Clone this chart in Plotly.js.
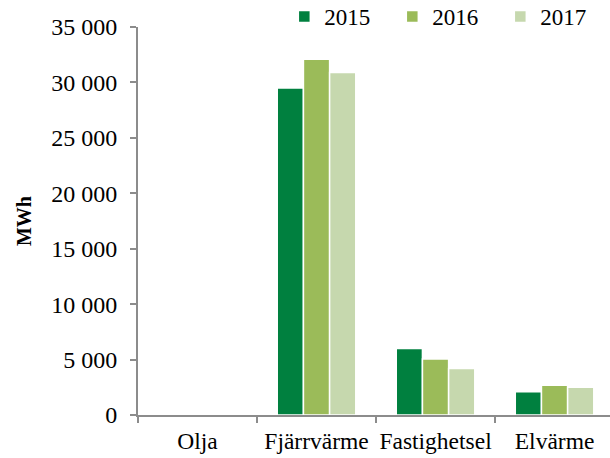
<!DOCTYPE html>
<html>
<head>
<meta charset="utf-8">
<script src="https://cdn.plot.ly/plotly-3.0.1.min.js"></script>
<style>
html,body{margin:0;padding:0;background:#fff;}
#chart{width:610px;height:458px;}
</style>
</head>
<body>
<div id="chart"></div>
<script>
const categories = ["Olja", "Fjärrvärme", "Fastighetsel", "Elvärme"];
const years = ["2015", "2016", "2017"];
const values2015 = [0, 29500, 6000, 2100];
const values2016 = [0, 32100, 5050, 2680];
const values2017 = [0, 30900, 4200, 2500];
const colors = ["#00803F", "#9BBB59", "#C6D8AE"];
const yTickVals = [0, 5000, 10000, 15000, 20000, 25000, 30000, 35000];

const series = [values2015, values2016, values2017];
const traces = series.map((vals, i) => ({
  type: "bar",
  name: years[i],
  x: categories,
  y: vals,
  marker: {color: colors[i], line: {color: "#ffffff", width: 1.5}},
  hoverinfo: "skip"
}));

const font = "Liberation Serif, Times New Roman, serif";
const layout = {
  width: 610,
  height: 458,
  margin: {l: 138, r: 0, t: 27, b: 43, autoexpand: false},
  paper_bgcolor: "#ffffff",
  plot_bgcolor: "#ffffff",
  separators: ", ",
  barmode: "group",
  bargap: 0.34,
  bargroupgap: 0.0,
  font: {family: font, size: 23, color: "#000000"},
  showlegend: true,
  legend: {
    orientation: "h",
    x: 0.31, xanchor: "left",
    y: 1.027, yanchor: "middle",
    font: {family: font, size: 23, color: "#000"},
    entrywidth: 63, entrywidthmode: "pixels",
    traceorder: "normal",
    itemclick: false
  },
  xaxis: {
    type: "category",
    range: [-0.5, 3.466],
    showline: true,
    linecolor: "#8c8c8c",
    linewidth: 2,
    ticks: "outside",
    tickson: "boundaries",
    ticklen: 6,
    tickwidth: 2,
    tickcolor: "#8c8c8c",
    tickangle: 0,
    showgrid: false,
    zeroline: false,
    tickfont: {family: font, size: 23.5, color: "#000"},
    ticklabelstandoff: 4,
    automargin: false,
    fixedrange: true
  },
  yaxis: {
    range: [0, 35000],
    tickvals: yTickVals,
    tickformat: ",d",
    showline: true,
    linecolor: "#8c8c8c",
    linewidth: 2,
    ticks: "outside",
    ticklen: 6,
    tickwidth: 2,
    tickcolor: "#8c8c8c",
    showgrid: false,
    zeroline: false,
    tickfont: {family: font, size: 24, color: "#000"},
    ticklabelstandoff: 8,
    title: {text: "<b>MWh</b>", font: {family: font, size: 20, color: "#000"}, standoff: 14},
    automargin: false,
    fixedrange: true
  }
};

Plotly.newPlot("chart", traces, layout, {displayModeBar: false, staticPlot: true});
</script>
</body>
</html>
